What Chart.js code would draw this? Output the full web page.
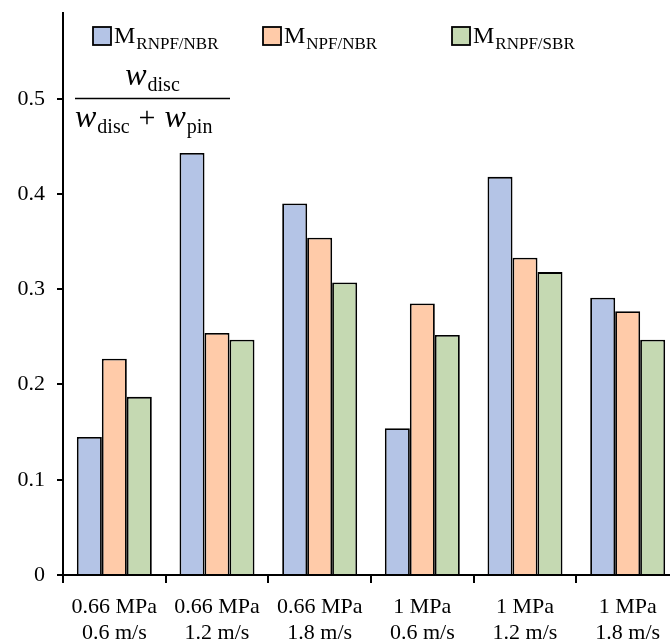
<!DOCTYPE html>
<html>
<head>
<meta charset="utf-8">
<script src="https://cdn.jsdelivr.net/npm/chart.js@4"></script>
<style>
  html, body { margin: 0; padding: 0; background: #fff; overflow: hidden; }
  #wrap { position: relative; width: 700px; height: 642px; }
</style>
</head>
<body>
<div id="wrap"><canvas id="chart"></canvas></div>
<script>
const categories = [
  ["0.66 MPa", "0.6 m/s"],
  ["0.66 MPa", "1.2 m/s"],
  ["0.66 MPa", "1.8 m/s"],
  ["1 MPa", "0.6 m/s"],
  ["1 MPa", "1.2 m/s"],
  ["1 MPa", "1.8 m/s"],
];
const seriesSubs = ["RNPF/NBR", "NPF/NBR", "RNPF/SBR"];
const rnpfNbr = [0.145, 0.443, 0.390, 0.154, 0.418, 0.291];
const npfNbr = [0.227, 0.254, 0.354, 0.285, 0.333, 0.277];
const rnpfSbr = [0.187, 0.247, 0.307, 0.252, 0.318, 0.247];
const yTicks = [0, 0.1, 0.2, 0.3, 0.4, 0.5];

const SERIF = '"Liberation Serif", "DejaVu Serif", serif';
const colors = ["#B4C4E6", "#FFCBA9", "#C5D9B2"];

function drawSub(ctx, x, y, main, sub, mainFont, subFont, drop) {
  ctx.font = mainFont;
  ctx.fillText(main, x, y);
  x += ctx.measureText(main).width + 1;
  ctx.font = subFont;
  ctx.fillText(sub, x, y + drop);
  return x + ctx.measureText(sub).width;
}

const annotationsPlugin = {
  id: "annotations",
  afterDraw(chart) {
    const { ctx, chartArea } = chart;
    const left = chartArea.left;
    ctx.save();
    ctx.fillStyle = "#000";
    ctx.textBaseline = "alphabetic";
    ctx.textAlign = "left";

    // legend
    const legendX = [left + 30, left + 200, left + 389];
    chart.data.datasets.forEach((ds, i) => {
      const x = legendX[i];
      ctx.fillStyle = ds.backgroundColor;
      ctx.fillRect(x, 27, 18, 18);
      ctx.strokeStyle = "#000";
      ctx.lineWidth = 1.8;
      ctx.strokeRect(x, 27, 18, 18);
      ctx.fillStyle = "#000";
      drawSub(ctx, x + 21, 43, "M", seriesSubs[i], `24px ${SERIF}`, `17px ${SERIF}`, 6);
    });

    // formula
    const wFont = `italic 32px ${SERIF}`;
    const subFont = `20px ${SERIF}`;
    ctx.font = wFont;
    const wW = ctx.measureText("w").width;
    ctx.font = subFont;
    const numW = wW + 1 + ctx.measureText("disc").width;
    const fx0 = left + 12, fx1 = left + 167;
    drawSub(ctx, (fx0 + fx1) / 2 - numW / 2, 85, "w", "disc", wFont, subFont, 6);
    ctx.beginPath();
    ctx.moveTo(fx0, 98.5);
    ctx.lineTo(fx1, 98.5);
    ctx.lineWidth = 1.4;
    ctx.stroke();
    let x = drawSub(ctx, fx0, 127, "w", "disc", wFont, subFont, 6);
    ctx.font = `30px ${SERIF}`;
    ctx.fillText("+", x + 9, 127);
    x += 9 + ctx.measureText("+").width + 9;
    drawSub(ctx, x, 127, "w", "pin", wFont, subFont, 6);
    ctx.restore();
  },
};

const datasets = [rnpfNbr, npfNbr, rnpfSbr].map((data, i) => ({
  label: "M" + seriesSubs[i],
  data,
  backgroundColor: colors[i],
  borderColor: "#000",
  borderWidth: 1.8,
  barPercentage: 1,
  categoryPercentage: 0.73,
}));

new Chart(document.getElementById("chart"), {
  type: "bar",
  plugins: [annotationsPlugin],
  data: { labels: categories, datasets },
  options: {
    responsive: true,
    maintainAspectRatio: false,
    animation: false,
    layout: { padding: { top: 13, right: 21, bottom: 0, left: 0 } },
    plugins: { legend: { display: false }, tooltip: { enabled: false } },
    scales: {
      x: {
        afterFit(scale) {
          scale.height = 67;
          scale.paddingLeft = 0;
          scale.paddingRight = 0;
        },
        grid: {
          offset: true,
          drawOnChartArea: false,
          drawTicks: true,
          tickLength: 8,
          color: "#000",
          lineWidth: 2,
        },
        border: { display: true, color: "#000", width: 2 },
        ticks: {
          color: "#000",
          padding: 11,
          maxRotation: 0,
          autoSkip: false,
          font: { family: SERIF, size: 22, lineHeight: 1.18 },
        },
      },
      y: {
        min: 0,
        max: 0.59,
        afterFit(scale) {
          scale.width = 63;
          scale.paddingTop = 0;
          scale.paddingBottom = 0;
        },
        afterBuildTicks(scale) { scale.ticks = yTicks.map((v) => ({ value: v })); },
        grid: {
          drawOnChartArea: false,
          drawTicks: true,
          tickLength: 6,
          color: "#000",
          lineWidth: 2,
        },
        border: { display: true, color: "#000", width: 2 },
        ticks: {
          color: "#000",
          padding: 12,
          font: { family: SERIF, size: 22 },
          callback(value) { return value === 0 ? "0" : value.toFixed(1); },
        },
      },
    },
  },
});
</script>
</body>
</html>
